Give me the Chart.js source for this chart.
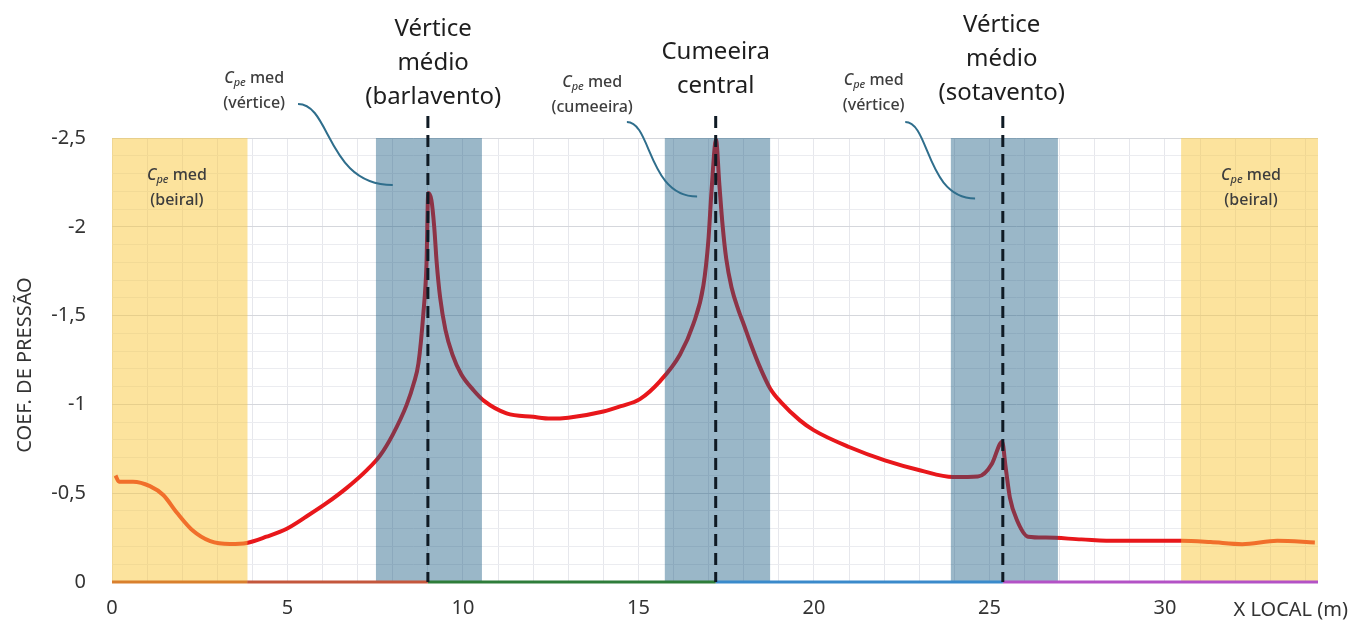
<!DOCTYPE html>
<html lang="pt">
<head>
  <meta charset="UTF-8">
  <title>Coeficiente de pressão</title>
  <script src="https://cdn.jsdelivr.net/npm/chart.js"></script>
  <style>
    body { margin: 0; background: #fff; }
    canvas { display: block; }
  </style>
</head>
<body>
  <canvas id="cpeChart" width="1361" height="629"></canvas>

  <script>
    // X LOCAL (m) along the roof and the mean external pressure coefficient
    const xLocal = [0.1, 0.2, 0.6, 1.08, 1.46, 1.85, 2.3, 2.8, 3.36, 3.84, 4.4, 4.98, 5.55, 6.12, 6.69, 7.26, 7.63, 8.0, 8.4, 8.6,
      8.73, 8.87, 8.96, 9.01, 9.1, 9.18, 9.25, 9.35, 9.5, 9.7, 9.95, 10.3, 10.6, 11.24, 12.0, 12.5, 13.0, 14.0, 14.5, 15.04, 15.61,
      16.18, 16.56, 16.85, 16.99, 17.08, 17.21, 17.3, 17.4, 17.5, 17.65, 17.85, 18.0, 18.2, 18.46, 18.75, 19.07, 19.6, 19.99,
      21.0, 22.02, 23.04, 23.96, 24.67, 25.07, 25.3, 25.36, 25.46, 25.58, 25.79, 26.1, 26.6, 27.62, 28.63, 30.47, 31.3, 32.2,
      33.2, 34.27];
    const cpe = [-0.60, -0.565, -0.565, -0.54, -0.49, -0.39, -0.29, -0.23, -0.214, -0.22, -0.255, -0.30, -0.37, -0.445, -0.53, -0.63, -0.71, -0.83, -1.0, -1.12,
      -1.23, -1.51, -1.79, -2.19, -2.15, -2.0, -1.8, -1.6, -1.42, -1.28, -1.17, -1.08, -1.02, -0.95, -0.93, -0.92, -0.925, -0.96, -0.99, -1.03, -1.13,
      -1.28, -1.45, -1.67, -1.92, -2.20, -2.49, -2.25, -2.0, -1.82, -1.66, -1.53, -1.45, -1.34, -1.21, -1.09, -1.01, -0.91, -0.855,
      -0.76, -0.685, -0.628, -0.591, -0.594, -0.666, -0.779, -0.79, -0.647, -0.477, -0.345, -0.255, -0.25, -0.24, -0.232, -0.232, -0.225, -0.213,
      -0.232, -0.223];

    // roof segments drawn along Cpe = 0
    const segBreaks = [0, 3.85, 9.0, 17.2, 25.38, 34.36];
    const segColors = ['#D9802E', '#C4573C', '#2E7D3A', '#3A8ACB', '#B352C6'];

    // shaded zones (x from / to)
    const beiralZones = [[0, 3.86], [30.46, 34.36]];
    const verticeZones = [[7.52, 10.54], [15.75, 18.75], [23.9, 26.95]];
    const ridgeLines = [9.0, 17.2, 25.38];

    const X_MAX = 34.36;

    const curveData = xLocal.map((x, i) => ({ x: x, y: cpe[i] }));
    const segDatasets = segColors.map((c, i) => ({
      data: [{ x: segBreaks[i], y: 0 }, { x: segBreaks[i + 1], y: 0 }],
      borderColor: c,
      borderWidth: 3,
      pointRadius: 0,
      clip: false,
      order: 0
    }));

    const FONT = '"Noto Sans", "DejaVu Sans", sans-serif';

    function fmt(v) {
      const r = Math.round(v * 10) / 10;
      return r === 0 ? '0' : String(r).replace('.', ',');
    }

    function isHalf(v) {
      return Math.abs(v * 2 - Math.round(v * 2)) < 1e-6;
    }

    // "Cpe med" with italic subscript, plus a second line
    function cpeLabel(ctx, cx, y, second) {
      ctx.fillStyle = '#3d3d3d';
      ctx.textBaseline = 'middle';
      ctx.textAlign = 'left';
      ctx.font = 'italic 500 16px ' + FONT;
      const wC = ctx.measureText('C').width;
      ctx.font = 'italic 500 11px ' + FONT;
      const wSub = ctx.measureText('pe').width;
      ctx.font = '500 16px ' + FONT;
      const wMed = ctx.measureText(' med').width;
      let x = cx - (wC + wSub + wMed) / 2;
      ctx.font = 'italic 500 16px ' + FONT;
      ctx.fillText('C', x, y);
      x += wC;
      ctx.font = 'italic 500 11px ' + FONT;
      ctx.fillText('pe', x, y + 5);
      x += wSub;
      ctx.font = '500 16px ' + FONT;
      ctx.fillText(' med', x, y);
      ctx.textAlign = 'center';
      ctx.fillText(second, cx, y + 25);
    }

    function bigLabel(ctx, cx, y, lines) {
      ctx.fillStyle = '#1e1e1e';
      ctx.font = '24px ' + FONT;
      ctx.textAlign = 'center';
      ctx.textBaseline = 'middle';
      lines.forEach((t, i) => ctx.fillText(t, cx, y + i * 34));
    }

    function connector(ctx, x0, y0, x1, y1) {
      ctx.save();
      ctx.strokeStyle = '#2F6E8C';
      ctx.lineWidth = 2;
      ctx.beginPath();
      ctx.moveTo(x0, y0);
      ctx.bezierCurveTo(x0 + (x1 - x0) * 0.35, y0, x0 + (x1 - x0) * 0.3, y1, x1, y1);
      ctx.stroke();
      ctx.restore();
    }

    const overlayPlugin = {
      id: 'overlays',
      afterDatasetDraw(chart, args) {
        if (args.index !== segDatasets.length) return;
        const { ctx, chartArea, scales } = chart;
        const xs = scales.x;
        ctx.save();
        ctx.fillStyle = 'rgba(250, 200, 60, 0.5)';
        beiralZones.forEach(z => {
          const a = xs.getPixelForValue(z[0]), b = xs.getPixelForValue(z[1]);
          ctx.fillRect(a, chartArea.top, b - a, chartArea.bottom - chartArea.top);
        });
        ctx.fillStyle = 'rgba(22, 88, 128, 0.43)';
        verticeZones.forEach(z => {
          const a = xs.getPixelForValue(z[0]), b = xs.getPixelForValue(z[1]);
          ctx.fillRect(a, chartArea.top, b - a, chartArea.bottom - chartArea.top);
        });
        ctx.restore();
      },
      afterDatasetsDraw(chart) {
        const { ctx, chartArea, scales } = chart;
        ctx.save();
        ctx.strokeStyle = '#0f1a24';
        ctx.lineWidth = 3;
        ctx.setLineDash([12, 7]);
        ridgeLines.forEach(v => {
          const x = scales.x.getPixelForValue(v);
          ctx.beginPath();
          ctx.moveTo(x, chartArea.top - 22);
          ctx.lineTo(x, chartArea.bottom);
          ctx.stroke();
        });
        ctx.restore();
      },
      afterDraw(chart) {
        const { ctx, chartArea, scales } = chart;
        const xs = scales.x, ys = scales.y;
        const top = chartArea.top;
        ctx.save();

        bigLabel(ctx, xs.getPixelForValue(9.15), top - 109, ['Vértice', 'médio', '(barlavento)']);
        bigLabel(ctx, xs.getPixelForValue(17.2), top - 86, ['Cumeeira', 'central']);
        bigLabel(ctx, xs.getPixelForValue(25.35), top - 113, ['Vértice', 'médio', '(sotavento)']);

        cpeLabel(ctx, xs.getPixelForValue(4.05), top - 60, '(vértice)');
        cpeLabel(ctx, xs.getPixelForValue(13.68), top - 56, '(cumeeira)');
        cpeLabel(ctx, xs.getPixelForValue(21.7), top - 58, '(vértice)');
        cpeLabel(ctx, xs.getPixelForValue(1.85), top + 37, '(beiral)');
        cpeLabel(ctx, xs.getPixelForValue(32.45), top + 37, '(beiral)');

        connector(ctx, xs.getPixelForValue(5.3), top - 34, xs.getPixelForValue(8.0), ys.getPixelForValue(-2.235));
        connector(ctx, xs.getPixelForValue(14.67), top - 16, xs.getPixelForValue(16.67), ys.getPixelForValue(-2.17));
        connector(ctx, xs.getPixelForValue(22.6), top - 16, xs.getPixelForValue(24.59), ys.getPixelForValue(-2.16));

        ctx.fillStyle = '#333';
        ctx.font = '20px ' + FONT;
        ctx.textAlign = 'right';
        ctx.textBaseline = 'middle';
        ctx.fillText('X LOCAL (m)', 1348, 610);

        // y axis title
        ctx.translate(25, (chartArea.top + chartArea.bottom) / 2 + 5);
        ctx.rotate(-Math.PI / 2);
        ctx.textAlign = 'center';
        ctx.font = '20px ' + FONT;
        ctx.fillText('COEF. DE PRESSÃO', 0, 0);
        ctx.restore();
      }
    };

    const ctx = document.getElementById('cpeChart').getContext('2d');
    const cpeChart = new Chart(ctx, {
      type: 'line',
      data: {
        datasets: [
          ...segDatasets,
          {
            data: curveData,
            borderColor: '#E8171B',
            borderWidth: 4,
            pointRadius: 0,
            cubicInterpolationMode: 'monotone',
            order: 1
          }
        ]
      },
      options: {
        responsive: false,
        animation: false,
        layout: { padding: { left: 0, right: 43, top: 138, bottom: 0 } },
        plugins: {
          legend: { display: false },
          tooltip: { enabled: false }
        },
        scales: {
          x: {
            type: 'linear',
            min: 0,
            max: X_MAX,
            border: { display: false },
            grid: { color: '#E6E7EC', drawTicks: false },
            ticks: {
              stepSize: 1,
              includeBounds: false,
              autoSkip: false,
              maxRotation: 0,
              padding: 14,
              color: '#333',
              font: { family: FONT, size: 20 },
              callback: v => (v % 5 === 0 && v <= 30 ? String(v) : '')
            },
            afterFit: s => { s.height = 47; }
          },
          y: {
            min: -2.5,
            max: 0,
            reverse: true,
            border: { display: false },
            grid: {
              drawTicks: false,
              color: c => (isHalf(c.tick.value) ? '#D5D7DC' : '#EBECF0')
            },
            ticks: {
              stepSize: 0.1,
              autoSkip: false,
              padding: 26,
              color: '#333',
              font: { family: FONT, size: 20 },
              callback: v => (isHalf(v) ? fmt(v) : '')
            },
            afterFit: s => { s.width = 112; }
          }
        }
      },
      plugins: [overlayPlugin]
    });
  </script>
</body>
</html>
